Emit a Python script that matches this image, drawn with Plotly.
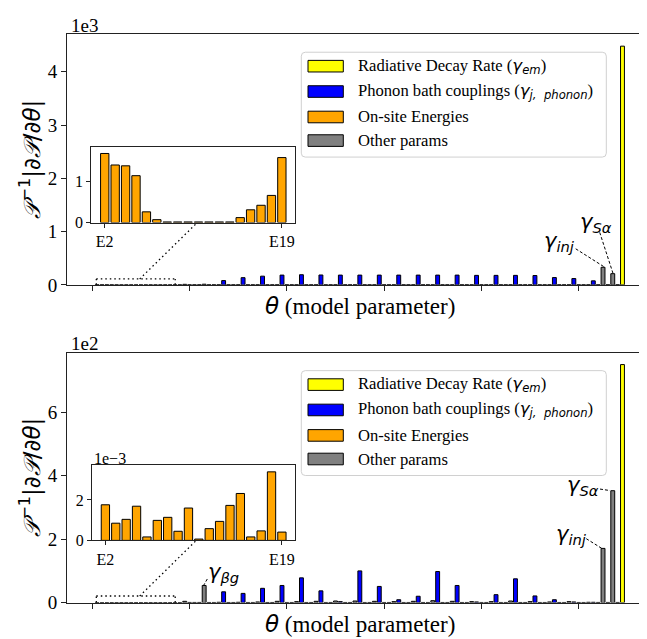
import plotly.graph_objects as go

W, H = 647, 639
SERIF = "Liberation Serif, Times New Roman, serif"
MATH = "DejaVu Sans"

# ---------------- data ----------------
E_LABELS = ["E2", "E3", "E4", "E5", "E6", "E7", "E8", "E9", "E10", "E11",
            "E12", "E13", "E14", "E15", "E16", "E17", "E18", "E19"]

# top panel (main axis shown in units of 1e3, inset in units of 1)
TOP_ONSITE = [1.68, 1.40, 1.38, 1.14, 0.26, 0.07, 0.015, 0.015, 0.015, 0.015,
              0.015, 0.015, 0.015, 0.12, 0.31, 0.42, 0.66, 1.58]
TOP_HEAD_OTHER = [10, 2, 2, 2, 12]            # last one = gamma_beta_g
TOP_GROUP_A = [2, 2, 2, 2, 2, 2, 2, 2, 2, 2, 2, 2, 2, 2, 2, 2, 2, 2, 2, 2]
TOP_GROUP_B = [2, 2, 2, 2, 2, 2, 2, 2, 2, 2, 2, 2, 2, 2, 2, 2, 2, 2, 2, 2]
TOP_GROUP_C = [2, 2, 2, 2, 2, 2, 2, 2, 2, 2, 2, 2, 2, 2, 2, 2, 2, 2, 2, 2]
TOP_PHONON = [80, 135, 163, 183, 190, 185, 183, 183, 183, 183,
              183, 183, 183, 178, 178, 178, 175, 137, 118, 75]
TOP_TAIL_OTHER = [2, 330, 2, 210, 2]          # gamma_inj, gamma_S_alpha
TOP_RADIATIVE = [4480]

# bottom panel (main axis shown in units of 1e2, inset in units of 1e-3)
BOT_ONSITE = [1.76e-3, 0.85e-3, 1.04e-3, 1.69e-3, 0.17e-3, 0.99e-3, 1.14e-3, 0.45e-3, 1.60e-3,
              0.065e-3, 0.58e-3, 0.94e-3, 1.73e-3, 2.32e-3, 0.17e-3, 0.47e-3, 3.39e-3, 0.41e-3]
BOT_HEAD_OTHER = [4, 0.5, 0.5, 0.5, 54]       # last one = gamma_beta_g
BOT_GROUP_A = [0.4, 0.4, 0.4, 0.4, 0.4, 0.4, 0.4, 0.4, 0.4, 0.4,
               0.4, 0.4, 0.4, 0.4, 0.4, 0.4, 0.4, 0.4, 0.4, 0.4]
BOT_GROUP_B = [0.4, 0.4, 0.4, 0.4, 0.4, 0.4, 0.4, 0.4, 0.4, 0.4,
               0.4, 0.4, 0.4, 0.4, 0.4, 0.4, 0.4, 0.4, 0.4, 0.4]
BOT_GROUP_C = [1, 1, 2, 4, 3, 4, 5, 5, 4, 3, 4, 6, 4, 3, 3, 5, 3, 2, 3, 1]
BOT_PHONON = [34, 29, 45, 54, 78, 37, 3, 100, 51, 9,
              20, 98, 54, 2, 25, 75, 21, 9, 2, 1]
BOT_TAIL_OTHER = [0.5, 171, 0.5, 353, 0.5]
BOT_RADIATIVE = [751]

LEGEND_NAMES = ["Radiative Decay Rate", "Phonon bath couplings", "On-site Energies", "Other params"]

C_RAD, C_PHON, C_ONS, C_OTH = "#ffff00", "#0000ff", "#ffa500", "#808080"

# parameter positions along theta axis
N_SITES = len(TOP_PHONON)
onsite_x = list(range(1, 1 + len(E_LABELS)))
head_x = list(range(19, 24))
grp_a_x = [24 + 4 * k for k in range(N_SITES)]
grp_b_x = [25 + 4 * k for k in range(N_SITES)]
grp_c_x = [26 + 4 * k for k in range(N_SITES)]
phon_x = [27 + 4 * k for k in range(N_SITES)]
tail_x = list(range(104, 109))
rad_x = [109]


def px(x):
    return x / W


def py(y):
    return 1 - y / H


fig = go.Figure()
EDGE = dict(color="black", width=1)


def add_panel(xa, ya, scale, onsite, head, ga, gb, gc, phon, tail, rad):
    other_x = head_x + grp_a_x + grp_b_x + grp_c_x + tail_x
    other_v = head + ga + gb + gc + tail
    for xs, vs, col in [(onsite_x, onsite, C_ONS), (other_x, other_v, C_OTH),
                        (phon_x, phon, C_PHON), (rad_x, rad, C_RAD)]:
        fig.add_trace(go.Bar(x=xs, y=[v / scale for v in vs], width=0.8,
                             marker=dict(color=col, line=EDGE),
                             xaxis=xa, yaxis=ya, showlegend=False))


add_panel("x", "y", 1e3, TOP_ONSITE, TOP_HEAD_OTHER, TOP_GROUP_A, TOP_GROUP_B,
          TOP_GROUP_C, TOP_PHONON, TOP_TAIL_OTHER, TOP_RADIATIVE)
add_panel("x2", "y2", 1e2, BOT_ONSITE, BOT_HEAD_OTHER, BOT_GROUP_A, BOT_GROUP_B,
          BOT_GROUP_C, BOT_PHONON, BOT_TAIL_OTHER, BOT_RADIATIVE)

# insets
fig.add_trace(go.Bar(x=E_LABELS, y=TOP_ONSITE, width=0.8,
                     marker=dict(color=C_ONS, line=EDGE), xaxis="x3", yaxis="y3", showlegend=False))
fig.add_trace(go.Bar(x=E_LABELS, y=[v / 1e-3 for v in BOT_ONSITE], width=0.8,
                     marker=dict(color=C_ONS, line=EDGE), xaxis="x4", yaxis="y4", showlegend=False))

top_max = max(TOP_RADIATIVE) / 1e3 * 1.05
bot_max = max(BOT_RADIATIVE) / 1e2 * 1.05
ins_top_max = max(TOP_ONSITE) * 1.1
ins_bot_max = max(BOT_ONSITE) / 1e-3 * 1.1

TICKFONT = dict(family=SERIF, size=19, color="black")
INSFONT = dict(family=SERIF, size=16, color="black")

common = dict(showline=True, mirror=True, linecolor="#222222", linewidth=1,
              showgrid=False, zeroline=False, ticks="outside", ticklen=5,
              tickwidth=1, tickcolor="#222222")

fig.update_layout(
    width=W, height=H, margin=dict(l=0, r=0, t=0, b=0),
    paper_bgcolor="white", plot_bgcolor="white", barmode="overlay",
    showlegend=False, font=dict(family=SERIF, color="black"),
    xaxis=dict(domain=[px(59), px(642.7)], range=[-5.2, 114.8], anchor="y",
               tickvals=[0, 20, 40, 60, 80, 100], showticklabels=False, **common),
    yaxis=dict(domain=[py(281.7), py(26.7)], range=[0, top_max], anchor="x",
               tickvals=[0, 1, 2, 3, 4], tickfont=TICKFONT, **common),
    xaxis2=dict(domain=[px(59), px(642.7)], range=[-5.2, 114.8], anchor="y2",
                tickvals=[0, 20, 40, 60, 80, 100], showticklabels=False, **common),
    yaxis2=dict(domain=[py(605), py(350.7)], range=[0, bot_max], anchor="x2",
                tickvals=[0, 2, 4, 6], tickfont=TICKFONT, **common),
    xaxis3=dict(domain=[px(83.3), px(287.3)], range=[-1.29, 18.29], anchor="y3",
                type="category", tickvals=[E_LABELS[0], E_LABELS[-1]],
                tickfont=INSFONT, **{**common, "ticklen": 4}),
    yaxis3=dict(domain=[py(218.3), py(141)], range=[0, ins_top_max], anchor="x3",
                tickvals=[0, 1], tickfont=INSFONT, **{**common, "ticklen": 4}),
    xaxis4=dict(domain=[px(84), px(287.3)], range=[-1.29, 18.29], anchor="y4",
                type="category", tickvals=[E_LABELS[0], E_LABELS[-1]],
                tickfont=INSFONT, **{**common, "ticklen": 4}),
    yaxis4=dict(domain=[py(541.7), py(465)], range=[0, ins_bot_max], anchor="x4",
                tickvals=[0, 2], tickfont=INSFONT, **{**common, "ticklen": 4}),
)

shapes = []
ann = []


def text(x, y, s, size, family=SERIF, xanchor="center", angle=0):
    ann.append(dict(x=px(x), y=py(y), xref="paper", yref="paper", text=s,
                    showarrow=False, xanchor=xanchor, yanchor="middle",
                    textangle=angle, borderpad=0,
                    font=dict(family=family, size=size, color="black")))


def pline(x0, y0, x1, y1, dash, width=1.1):
    shapes.append(dict(type="line", xref="paper", yref="paper",
                       x0=px(x0), y0=py(y0), x1=px(x1), y1=py(y1),
                       line=dict(color="black", width=width, dash=dash)))


def rounded_box(x0, y0, x1, y1, r=4):
    rx, ry = r / W, r / H
    X0, X1, Y0, Y1 = px(x0), px(x1), py(y1), py(y0)
    path = (f"M{X0+rx},{Y0} L{X1-rx},{Y0} Q{X1},{Y0} {X1},{Y0+ry} "
            f"L{X1},{Y1-ry} Q{X1},{Y1} {X1-rx},{Y1} L{X0+rx},{Y1} "
            f"Q{X0},{Y1} {X0},{Y1-ry} L{X0},{Y0+ry} Q{X0},{Y0} {X0+rx},{Y0} Z")
    shapes.append(dict(type="path", xref="paper", yref="paper", path=path,
                       fillcolor="rgba(255,255,255,0.8)", line=dict(color="#d0d0d0", width=1)))


ylab = (f"<span style='font-family:{MATH}'><i>𝒫</i><sup>−1</sup>|∂<i>𝒫</i>/∂<i>θ</i>|</span>")
xlab = f"<span style='font-family:{MATH}'><i>θ</i></span> (model parameter)"

leg_texts = [
    f"{LEGEND_NAMES[0]} (<span style='font-family:{MATH}'><i>γ<sub>em</sub></i></span>)",
    f"{LEGEND_NAMES[1]} (<span style='font-family:{MATH}'><i>γ<sub>j,  phonon</sub></i></span>)",
    LEGEND_NAMES[2], LEGEND_NAMES[3],
]
leg_cols = [C_RAD, C_PHON, C_ONS, C_OTH]

for dy, (ax_top, ax_bot, mult, ins_top, ins_bot, box_top, conn_end_x) in zip(
        [0, 324],
        [(26.7, 281.7, "1e3", 141, 218.3, 275.7, 189.3),
         (350.7, 605, "1e2", 465, 541.7, 598.3, 188.3)]):
    text(61.7, ax_top - 9, mult, 19, xanchor="left")
    text(352, ax_bot + 21.5, xlab, 23)
    text(22, (ax_top + ax_bot) / 2, ylab, 23, family=MATH, angle=-90)
    # legend
    rounded_box(293.3, 45 + dy, 598.3, 151.7 + dy)
    for i, (t, c) in enumerate(zip(leg_texts, leg_cols)):
        yc = [59.2, 85, 110.9, 134.9][i] + dy
        shapes.append(dict(type="rect", xref="paper", yref="paper",
                           x0=px(300), x1=px(335.3), y0=py(yc + 5.9), y1=py(yc - 5.9),
                           fillcolor=c, line=dict(color="black", width=1)))
        text(349.3, yc, t, 16.6, xanchor="left")
    # dotted zoom box & connector
    pline(88.3, ax_bot, 88.3, box_top, "1.5px,3px", 1.3)
    pline(167.2, ax_bot, 167.2, box_top, "1.5px,3px", 1.3)
    pline(88.3, box_top, 167.2, box_top, "1.5px,3px", 1.3)
    pline(131.7, box_top, conn_end_x, ins_bot, "1.5px,3px", 1.3)

text(85, 458, "1e−3", 16, xanchor="left")

GAMMA = lambda sub: f"<i>γ<sub>{sub}</sub></i>"
# top annotations
text(551, 238.3, GAMMA("inj"), 21, family=MATH)
text(588.3, 219, GAMMA("Sα"), 21, family=MATH)
pline(567.7, 245, 596, 263.3, "3px,2px", 1)
pline(591.7, 228.3, 605, 270, "3px,2px", 1)
# bottom annotations
text(575, 486.7, GAMMA("Sα"), 21, family=MATH)
pline(592, 489.5, 602, 491, "3px,2px", 1)
text(563.3, 536.7, GAMMA("inj"), 21, family=MATH)
pline(578.3, 540, 594, 550, "3px,2px", 1)
text(215.8, 575, GAMMA("βg"), 21, family=MATH)
pline(199.3, 581, 195.5, 587.7, "3px,2px", 1)

fig.update_layout(shapes=shapes, annotations=ann)
fig.write_html("out.html")
